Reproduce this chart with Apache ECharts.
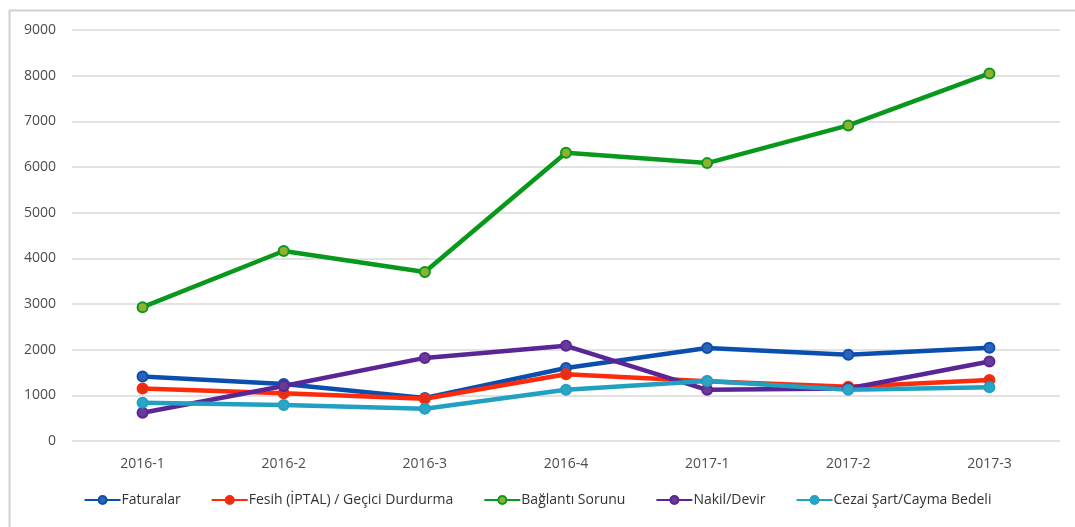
<!DOCTYPE html>
<html>
<head>
<meta charset="utf-8">
<script src="https://cdn.jsdelivr.net/npm/echarts@6/dist/echarts.min.js"></script>
<style>
  html, body { margin: 0; padding: 0; background: #fff; }
  #chart { width: 1075px; height: 527px; }
</style>
</head>
<body>
<div id="chart"></div>
<script>
// kategoriler (çeyrekler)
const categories = ['2016-1', '2016-2', '2016-3', '2016-4', '2017-1', '2017-2', '2017-3']

// şikayet sayıları
const faturalar = [1410, 1250, 940, 1600, 2035, 1890, 2040]
const fesih = [1150, 1045, 925, 1460, 1310, 1190, 1335]
const baglanti = [2930, 4160, 3700, 6310, 6085, 6910, 8050]
const nakil = [620, 1205, 1820, 2085, 1120, 1150, 1740]
const cezai = [840, 790, 705, 1120, 1315, 1120, 1175]

const yTicks = [0, 1000, 2000, 3000, 4000, 5000, 6000, 7000, 8000, 9000]

const makeSeries = (name, data, color, fill) => ({
  name: name,
  type: 'line',
  data: data,
  symbol: 'circle',
  symbolSize: 10,
  lineStyle: { color: color, width: 4.5 },
  itemStyle: { color: fill || color, borderColor: color, borderWidth: 2 }
})

const chart = echarts.init(document.getElementById('chart'))

const option = {
  animation: false,
  textStyle: { fontFamily: 'Open Sans, Noto Sans, sans-serif' },
  graphic: [
    {
      type: 'rect',
      left: 7,
      top: 8,
      shape: { width: 1100, height: 560 },
      style: { fill: 'none', stroke: '#d0d0d0', lineWidth: 2 },
      silent: true
    }
  ],
  grid: {
    left: 72,
    right: 15,
    top: 30,
    bottom: 86
  },
  legend: {
    bottom: 15,
    left: 'center',
    itemWidth: 36,
    itemHeight: 10,
    itemGap: 30,
    textStyle: { color: '#333333', fontSize: 14, padding: [0, 0, 0, -4] },
    data: ['Faturalar', 'Fesih (İPTAL) / Geçici Durdurma', 'Bağlantı Sorunu', 'Nakil/Devir', 'Cezai Şart/Cayma Bedeli']
  },
  xAxis: {
    type: 'category',
    data: categories,
    boundaryGap: true,
    axisLine: { show: false },
    axisTick: { show: false },
    axisLabel: { color: '#4d4d4d', fontSize: 14, margin: 16 }
  },
  yAxis: {
    type: 'value',
    min: yTicks[0],
    max: yTicks[yTicks.length - 1],
    interval: 1000,
    axisLine: { show: false },
    axisTick: { show: false },
    axisLabel: { color: '#4d4d4d', fontSize: 14, margin: 16, formatter: v => String(v) },
    splitLine: { lineStyle: { color: '#d9d9d9', width: 1.5 } }
  },
  series: [
    makeSeries('Faturalar', faturalar, '#0a4fae', '#2a64b8'),
    makeSeries('Fesih (İPTAL) / Geçici Durdurma', fesih, '#ff2a0a', '#e0301a'),
    makeSeries('Bağlantı Sorunu', baglanti, '#08991c', '#8fb030'),
    makeSeries('Nakil/Devir', nakil, '#5a2595', '#6a3a98'),
    makeSeries('Cezai Şart/Cayma Bedeli', cezai, '#22a0c2', '#2aa6c4')
  ]
}

chart.setOption(option)

window.addEventListener('resize', () => {
  chart.resize()
})
</script>
</body>
</html>
